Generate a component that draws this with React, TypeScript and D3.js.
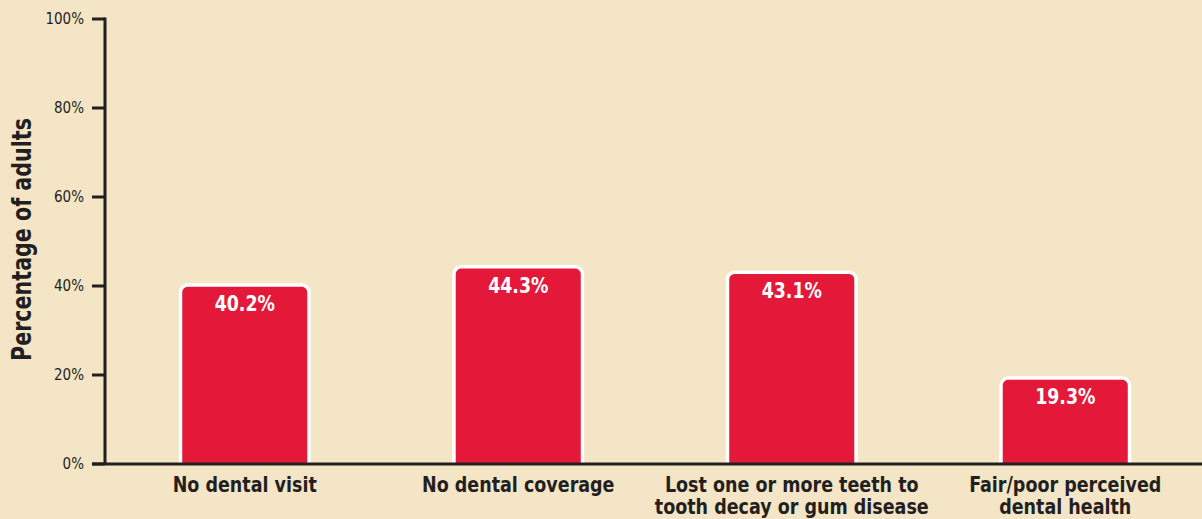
import React from "react";
import * as d3 from "d3";

const categories: string[][] = [
  ["No dental visit"],
  ["No dental coverage"],
  ["Lost one or more teeth to", "tooth decay or gum disease"],
  ["Fair/poor perceived", "dental health"],
];
const values: number[] = [40.2, 44.3, 43.1, 19.3];
const yTicks: number[] = [0, 20, 40, 60, 80, 100];
const yTitle = "Percentage of adults";

const W = 1202;
const H = 519;
const BG = "#f3e5c6";
const RED = "#e4193a";
const INK = "#231f20";
const FONT = "'DejaVu Sans Condensed', 'Liberation Sans Narrow', sans-serif";

export default function App() {
  const y = d3.scaleLinear().domain([0, 100]).range([464, 19]);
  const x = d3
    .scaleBand<number>()
    .domain(values.map((_, i) => i))
    .range([108, 1202])
    .paddingInner(0.53)
    .paddingOuter(0.265);

  const barPath = (x0: number, w: number, top: number, bottom: number, r: number) => {
    const p = d3.path();
    p.moveTo(x0, bottom);
    p.lineTo(x0, top + r);
    p.arcTo(x0, top, x0 + r, top, r);
    p.lineTo(x0 + w - r, top);
    p.arcTo(x0 + w, top, x0 + w, top + r, r);
    p.lineTo(x0 + w, bottom);
    return p.toString();
  };

  return (
    <svg
      width={W}
      height={H}
      style={{ position: "fixed", left: 0, top: 0, background: BG }}
      fontFamily={FONT}
    >
      <rect x={0} y={0} width={W} height={H} fill={BG} />
      {values.map((v, i) => {
        const bx = x(i)!;
        const bw = x.bandwidth();
        return (
          <g key={i}>
            <path
              d={barPath(bx, bw, y(v), y(0), 7)}
              fill={RED}
              stroke="#ffffff"
              strokeWidth={3.5}
            />
            <g transform={`translate(${bx + bw / 2}, ${y(v) + 26}) scale(0.92, 1)`}>
              <text
                x={0}
                y={0}
                textAnchor="middle"
                fill="#ffffff"
                fontWeight="bold"
                fontSize={21}
              >
                {v.toFixed(1)}%
              </text>
            </g>
          </g>
        );
      })}
      {/* axes */}
      <line x1={105} x2={105} y1={y(100) - 1.5} y2={y(0)} stroke={INK} strokeWidth={3} />
      <line x1={92} x2={W} y1={y(0)} y2={y(0)} stroke={INK} strokeWidth={3} />
      {yTicks.map((t) => (
        <g key={t}>
          <line x1={92} x2={105} y1={y(t)} y2={y(t)} stroke={INK} strokeWidth={3} />
          <text
            x={84}
            y={y(t) + 5}
            textAnchor="end"
            fill={INK}
            fontSize={15}
          >
            {t}%
          </text>
        </g>
      ))}
      {categories.map((lines, i) => (
        <g key={i} transform={`translate(${x(i)! + x.bandwidth() / 2}, 492) scale(0.885, 1)`}>
          {lines.map((l, j) => (
            <text
              key={j}
              x={0}
              y={j * 22}
              textAnchor="middle"
              fill={INK}
              fontWeight="bold"
              fontSize={22}
            >
              {l}
            </text>
          ))}
        </g>
      ))}
      <g transform={`translate(31, ${y(50) - 2}) rotate(-90) scale(0.85, 1)`}>
        <text
          x={0}
          y={0}
          textAnchor="middle"
          fill={INK}
          fontWeight="bold"
          fontSize={27}
        >
          {yTitle}
        </text>
      </g>
    </svg>
  );
}
